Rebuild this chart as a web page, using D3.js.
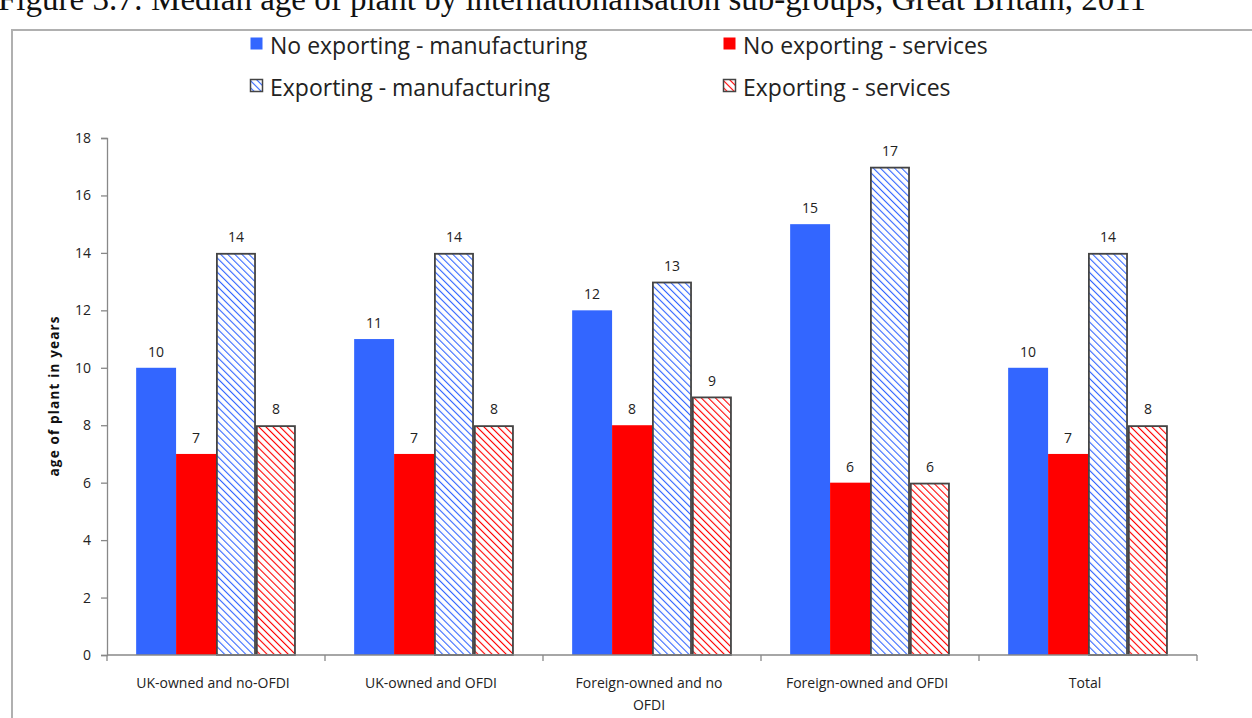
<!DOCTYPE html>
<html>
<head>
<meta charset="utf-8">
<script src="https://cdn.jsdelivr.net/npm/d3@7"></script>
<style>
  html, body { margin: 0; padding: 0; background: #fff; overflow: hidden; }
  svg { display: block; }
</style>
</head>
<body>
<svg id="chart" width="1252" height="718"></svg>
<script>
// Median age of plant by internationalisation sub-group
const categories = [
  ["UK-owned and no-OFDI"],
  ["UK-owned and OFDI"],
  ["Foreign-owned and no", "OFDI"],
  ["Foreign-owned and OFDI"],
  ["Total"]
];
const seriesNames = [
  "No exporting - manufacturing",
  "No exporting - services",
  "Exporting - manufacturing",
  "Exporting - services"
];
const noExportManufacturing = [10, 11, 12, 15, 10];
const noExportServices      = [7, 7, 8, 6, 7];
const exportManufacturing   = [14, 14, 13, 17, 14];
const exportServices        = [8, 8, 9, 6, 8];
const yTicks = [0, 2, 4, 6, 8, 10, 12, 14, 16, 18];

const seriesValues = [noExportManufacturing, noExportServices, exportManufacturing, exportServices];

const svg = d3.select("#chart");
const sans = "'Open Sans', 'DejaVu Sans', sans-serif";
const legendFont = "'Open Sans', 'DejaVu Sans', sans-serif";

// fills: solid blue, solid red, then hatched blue / hatched red
const defs = svg.append("defs");
function hatch(id, color) {
  const p = defs.append("pattern")
    .attr("id", id)
    .attr("patternUnits", "userSpaceOnUse")
    .attr("width", 5).attr("height", 5)
    .attr("patternTransform", "rotate(-45)");
  p.append("rect").attr("width", 5).attr("height", 5).attr("fill", "#fff");
  p.append("line").attr("x1", 0).attr("y1", 0).attr("x2", 0).attr("y2", 5)
    .attr("stroke", color).attr("stroke-width", 2.2);
}
hatch("hatchBlue", "#3366ff");
hatch("hatchRed", "#ff0000");

const styles = [
  { fill: "#3366ff", stroke: "none" },
  { fill: "#ff0000", stroke: "none" },
  { fill: "url(#hatchBlue)", stroke: "#444" },
  { fill: "url(#hatchRed)", stroke: "#444" }
];

// title strip at the very top (partly cut by the page edge)
svg.append("text")
  .attr("x", -2).attr("y", 10)
  .attr("font-family", "'Liberation Serif', 'DejaVu Serif', serif")
  .attr("font-size", 33)
  .attr("fill", "#111")
  .text("Figure 3.7: Median age of plant by internationalisation sub-groups, Great Britain, 2011");

// chart frame
svg.append("rect")
  .attr("x", 12).attr("y", 30)
  .attr("width", 1300).attr("height", 760)
  .attr("fill", "#fff")
  .attr("stroke", "#b0b0b0").attr("stroke-width", 2);

// scales
const margin = { left: 107, right: 1197, top: 138, bottom: 655 };
const x0 = d3.scaleBand()
  .domain(d3.range(categories.length))
  .range([margin.left, margin.right])
  .paddingInner(0).paddingOuter(0);
const x1 = d3.scaleBand()
  .domain(d3.range(seriesNames.length))
  .range([0, x0.bandwidth()])
  .paddingOuter(0.73);
const y = d3.scaleLinear().domain([0, 18]).range([margin.bottom, margin.top]);

// y axis
const yAxis = svg.append("g")
  .attr("transform", `translate(${margin.left},0)`)
  .call(d3.axisLeft(y).tickValues(yTicks).tickSize(6).tickPadding(10));
yAxis.select(".domain").attr("stroke", "#888").attr("stroke-width", 1.3);
yAxis.selectAll(".tick line").attr("stroke", "#888").attr("stroke-width", 1.3);
yAxis.selectAll(".tick text")
  .attr("font-family", sans).attr("font-size", 14).attr("fill", "#222");

svg.append("text")
  .attr("transform", `translate(59,${(315 + 478) / 2}) rotate(-90)`)
  .attr("text-anchor", "middle")
  .attr("font-family", sans).attr("font-size", 13.5).attr("font-weight", "bold")
  .attr("fill", "#111")
  .attr("textLength", 160).attr("lengthAdjust", "spacing")
  .text("age of plant in years");

// bars
const groups = svg.append("g").selectAll("g")
  .data(categories)
  .join("g")
  .attr("transform", (d, i) => `translate(${x0(i)},0)`);

groups.each(function (cat, ci) {
  const g = d3.select(this);
  seriesValues.forEach((vals, si) => {
    const v = vals[ci];
    const st = styles[si];
    const inset = st.stroke === "none" ? 0 : 0.9;
    g.append("rect")
      .attr("x", x1(si) + inset)
      .attr("y", y(v) + inset)
      .attr("width", x1.bandwidth() - 2 * inset)
      .attr("height", y(0) - y(v) - inset)
      .attr("fill", st.fill)
      .attr("stroke", st.stroke)
      .attr("stroke-width", st.stroke === "none" ? 0 : 1.8);
    g.append("text")
      .attr("x", x1(si) + x1.bandwidth() / 2)
      .attr("y", y(v) - 11)
      .attr("text-anchor", "middle")
      .attr("font-family", sans).attr("font-size", 14)
      .attr("fill", "#222")
      .text(v);
  });
});

// x axis with category separators
const xAxisG = svg.append("g").attr("transform", `translate(0,${margin.bottom})`);
xAxisG.append("line")
  .attr("x1", margin.left).attr("x2", margin.right)
  .attr("stroke", "#888").attr("stroke-width", 1.3);
const sepPositions = d3.range(categories.length + 1).map(i =>
  i < categories.length ? x0(i) : x0(i - 1) + x0.bandwidth());
xAxisG.selectAll("line.sep")
  .data(sepPositions)
  .join("line")
  .attr("class", "sep")
  .attr("x1", d => d).attr("x2", d => d)
  .attr("y1", 0).attr("y2", 6)
  .attr("stroke", "#888").attr("stroke-width", 1.3);

const catLabels = xAxisG.selectAll("text.cat")
  .data(categories)
  .join("text")
  .attr("class", "cat")
  .attr("text-anchor", "middle")
  .attr("font-family", sans).attr("font-size", 14)
  .attr("fill", "#222")
  .attr("transform", (d, i) => `translate(${x0(i) + x0.bandwidth() / 2 - 3},33)`);
catLabels.selectAll("tspan")
  .data(d => d)
  .join("tspan")
  .attr("x", 0)
  .attr("dy", (d, i) => i === 0 ? 0 : 22)
  .text(d => d);

// legend
const legendItems = [
  { name: seriesNames[0], style: styles[0], x: 250, y: 46 },
  { name: seriesNames[1], style: styles[1], x: 723, y: 46 },
  { name: seriesNames[2], style: styles[2], x: 250, y: 88 },
  { name: seriesNames[3], style: styles[3], x: 723, y: 88 }
];
const lg = svg.append("g").selectAll("g")
  .data(legendItems)
  .join("g")
  .attr("transform", d => `translate(${d.x},${d.y})`);
lg.append("rect")
  .attr("x", 0.5).attr("y", -8.5)
  .attr("width", 12).attr("height", 12)
  .attr("fill", d => d.style.fill)
  .attr("stroke", d => d.style.stroke)
  .attr("stroke-width", d => d.style.stroke === "none" ? 0 : 1.5);
lg.append("text")
  .attr("x", 20).attr("y", 8)
  .attr("font-family", legendFont).attr("font-size", 23)
  .attr("fill", "#222")
  .text(d => d.name);
</script>
</body>
</html>
